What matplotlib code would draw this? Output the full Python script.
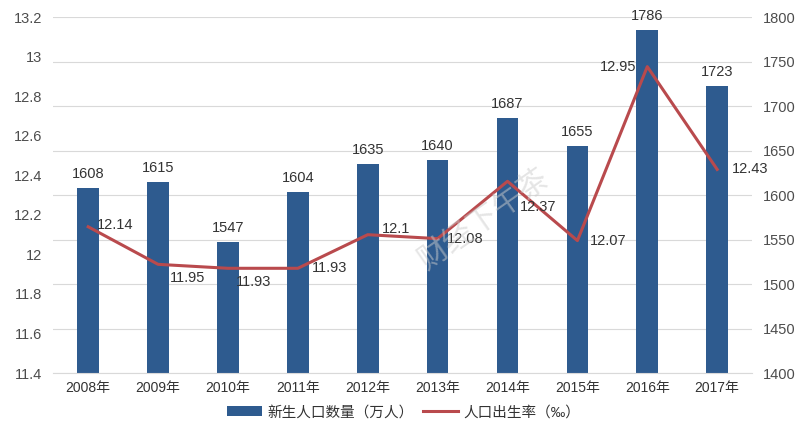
import numpy as np
import matplotlib.pyplot as plt

plt.rcParams['font.family'] = ['Liberation Sans', 'Noto Sans CJK SC', 'DejaVu Sans']

years = ['2008年', '2009年', '2010年', '2011年', '2012年',
         '2013年', '2014年', '2015年', '2016年', '2017年']
births = [1608, 1615, 1547, 1604, 1635, 1640, 1687, 1655, 1786, 1723]
rates = [12.14, 11.95, 11.93, 11.93, 12.1, 12.08, 12.37, 12.07, 12.95, 12.43]
rate_labels = ['12.14', '11.95', '11.93', '11.93', '12.1',
               '12.08', '12.37', '12.07', '12.95', '12.43']

# offsets (pixels) for the line labels
rate_offsets = [(9, 2), (12, -14), (8, -14), (14, 0), (14, 6),
                (9, 0), (12, -26), (12, 0), (-11, 0), (15, 0)]

bar_color = '#2E5B8F'
line_color = '#B94A4D'
text_color = '#333333'

fig = plt.figure(figsize=(8.07, 4.41), dpi=100)
ax_r = fig.add_axes([0.066, 0.154, 0.866, 0.807])
ax_l = ax_r.twinx()
# left axis holds the rate, right axis the births
ax_l.yaxis.tick_left()
ax_r.yaxis.tick_right()

x = np.arange(len(years))
bars = ax_r.bar(x, births, width=0.31, color=bar_color, zorder=2)
ax_r.set_ylim(1400, 1800)
ax_r.set_yticks(np.arange(1400, 1801, 50))
ax_r.set_xlim(-0.5, len(years) - 0.5)
ax_r.set_xticks(x)
ax_r.set_xticklabels(years)
ax_r.grid(axis='y', color='#d9d9d9', linewidth=0.8, zorder=0)
ax_r.set_axisbelow(True)

for xi, b in zip(x, births):
    ax_r.annotate(str(b), (xi, b), xytext=(0, 7), textcoords='offset pixels',
                  ha='center', va='bottom', fontsize=10.5, color=text_color)

line, = ax_l.plot(x, rates, color=line_color, linewidth=2.2, zorder=3)
ax_l.set_ylim(11.4, 13.2)
ax_l.set_yticks([11.4, 11.6, 11.8, 12.0, 12.2, 12.4, 12.6, 12.8, 13.0, 13.2])
ax_l.set_yticklabels(['11.4', '11.6', '11.8', '12', '12.2', '12.4',
                      '12.6', '12.8', '13', '13.2'])

for xi, r, lab, off in zip(x, rates, rate_labels, rate_offsets):
    ha = 'right' if off[0] < 0 else 'left'
    ax_l.annotate(lab, (xi, r), xytext=off, textcoords='offset pixels',
                  ha=ha, va='center', fontsize=10.5, color=text_color)

for a in (ax_l, ax_r):
    for s in a.spines.values():
        s.set_visible(False)
    a.tick_params(length=0, labelsize=10.5, labelcolor='#4d4d4d')
ax_r.spines['bottom'].set_visible(True)
ax_r.spines['bottom'].set_color('#d9d9d9')
ax_r.tick_params(axis='x', pad=6, labelsize=10, labelcolor=text_color)
ax_l.tick_params(axis='y', pad=8)
ax_r.tick_params(axis='y', pad=8)

# faint watermark
fig.text(0.6, 0.5, '财经下午茶', rotation=35, fontsize=22, color='#cccccc',
         alpha=0.5, ha='center', va='center', zorder=0)

fig.legend([bars, line], ['新生人口数量（万人）', '人口出生率（‰）'],
           loc='center', bbox_to_anchor=(0.5, 0.065), ncol=2, frameon=False,
           fontsize=10.5, handlelength=2.4, handletextpad=0.4,
           columnspacing=0.6, labelcolor=text_color)

fig.savefig('out.png', dpi=100)
